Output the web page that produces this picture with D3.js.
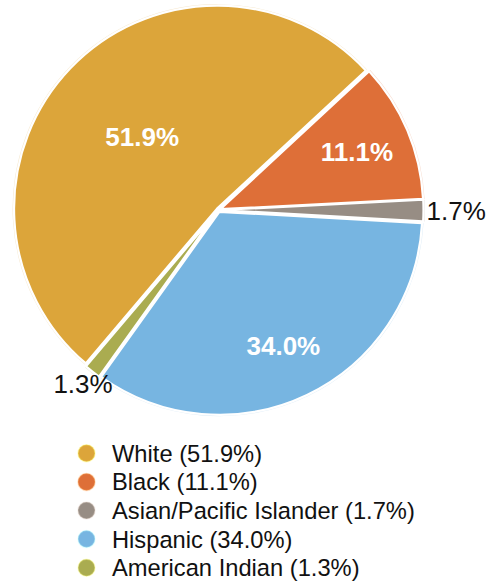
<!DOCTYPE html>
<html>
<head>
<meta charset="utf-8">
<script src="https://cdn.jsdelivr.net/npm/d3@7"></script>
<style>
  html, body { margin: 0; padding: 0; background: #ffffff; }
  svg { display: block; }
</style>
</head>
<body>
<svg id="chart" width="490" height="582"></svg>
<script>
// Population share by race/ethnicity
const categories = ["White", "Black", "Asian/Pacific Islander", "Hispanic", "American Indian"];
const shares = [51.9, 11.1, 1.7, 34.0, 1.3];
const colors = ["#dca53a", "#de6f38", "#978d84", "#77b5e1", "#aaac50"];

const width = 490, height = 582;
const cx = 218.5, cy = 210, R = 203;
const startDeg = -139.7;
const font = "'Liberation Sans', Arial, Helvetica, sans-serif";

const svg = d3.select("#chart");

const data = categories.map((c, i) => ({ name: c, value: shares[i], color: colors[i] }));

const pie = d3.pie()
  .value(d => d.value)
  .sort(null)
  .startAngle(startDeg * Math.PI / 180)
  .endAngle((startDeg + 360) * Math.PI / 180);

const arcs = pie(data);
const arc = d3.arc().innerRadius(0).outerRadius(R);
const explode = 2;

const g = svg.append("g").attr("transform", `translate(${cx},${cy})`);

// faint halo round the pie's rim
g.selectAll("path.halo")
  .data(arcs)
  .join("path")
  .attr("class", "halo")
  .attr("d", d3.arc().innerRadius(0).outerRadius(R + 1.5))
  .attr("transform", d => {
    const m = (d.startAngle + d.endAngle) / 2;
    return `translate(${explode * Math.sin(m)},${-explode * Math.cos(m)})`;
  })
  .attr("fill", d => d.data.color)
  .attr("opacity", 0.25);

g.selectAll("path.slice")
  .data(arcs)
  .join("path")
  .attr("class", "slice")
  .attr("d", arc)
  .attr("transform", d => {
    const m = (d.startAngle + d.endAngle) / 2;
    return `translate(${explode * Math.sin(m)},${-explode * Math.cos(m)})`;
  })
  .attr("fill", d => d.data.color)
  .attr("stroke", "#ffffff")
  .attr("stroke-width", 2.2)
  .attr("stroke-linejoin", "round");

const fmt = v => v.toFixed(1) + "%";

// labels: large slices inside in white bold, small ones outside in black
arcs.forEach(d => {
  const m = (d.startAngle + d.endAngle) / 2;
  const s = Math.sin(m), c = -Math.cos(m);
  const frac = d.data.value / 100;
  if (frac >= 0.05) {
    const r = frac > 0.5 ? R * 0.52 : R * 0.74;
    g.append("text")
      .attr("x", r * s)
      .attr("y", r * c)
      .attr("dy", "0.35em")
      .attr("text-anchor", "middle")
      .attr("font-family", font)
      .attr("font-weight", "bold")
      .attr("font-size", 26)
      .attr("fill", "#ffffff")
      .text(fmt(d.data.value));
  } else {
    let anchor = "middle", r = R * 1.085;
    if (s > 0.9) { anchor = "start"; r = R + 5; }
    else if (s < -0.9) { anchor = "end"; r = R + 5; }
    g.append("text")
      .attr("x", r * s)
      .attr("y", r * c)
      .attr("dy", "0.35em")
      .attr("text-anchor", anchor)
      .attr("font-family", font)
      .attr("font-size", 26)
      .attr("fill", "#111111")
      .text(fmt(d.data.value));
  }
});

// legend
const legendY = d3.scaleBand()
  .domain(categories)
  .range([439, 582])
  .paddingInner(0)
  .paddingOuter(0);

const legend = svg.append("g");
const rows = legend.selectAll("g.row")
  .data(data)
  .join("g")
  .attr("class", "row")
  .attr("transform", d => `translate(0,${legendY(d.name) + legendY.bandwidth() / 2})`);

rows.append("circle")
  .attr("cx", 86.5)
  .attr("cy", 0)
  .attr("r", 8.5)
  .attr("fill", d => d.color)
  .attr("stroke", d => d3.color(d.color).brighter(1.2))
  .attr("stroke-opacity", 0.35)
  .attr("stroke-width", 1.5);

rows.append("text")
  .attr("x", 112)
  .attr("y", 0)
  .attr("dy", "0.36em")
  .attr("font-family", font)
  .attr("font-size", 23.7)
  .attr("fill", "#111111")
  .text(d => `${d.name} (${fmt(d.value)})`);
</script>
</body>
</html>
